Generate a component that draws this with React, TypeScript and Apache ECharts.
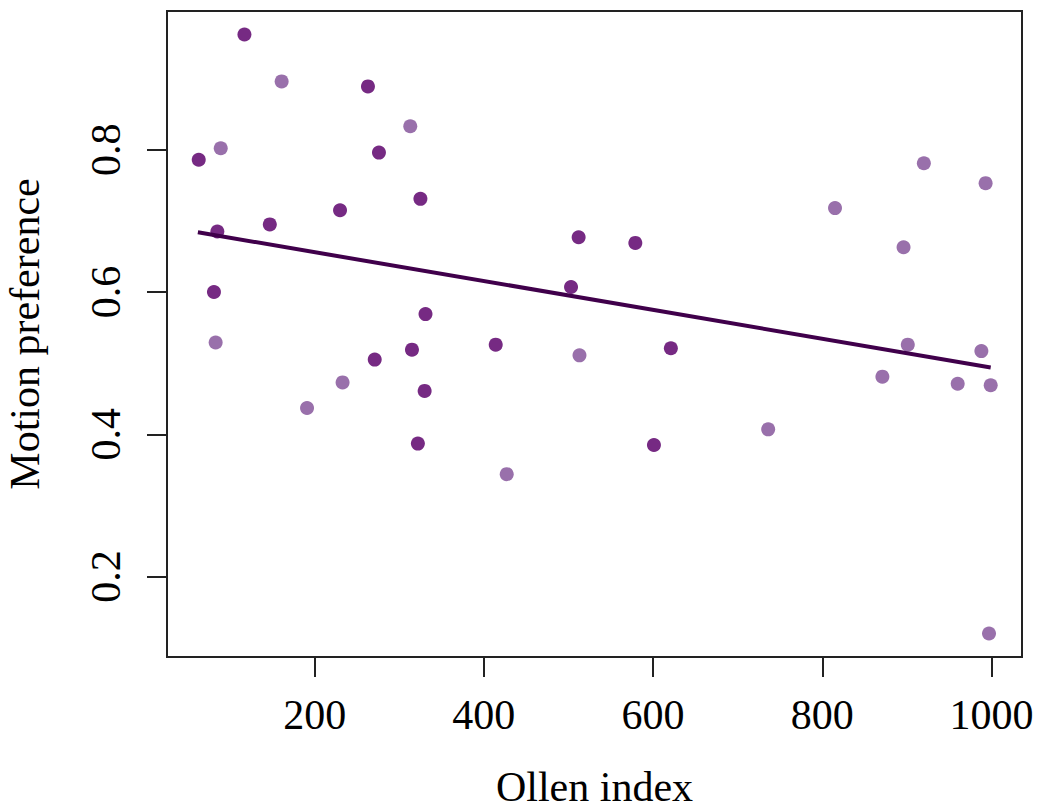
import React, { useEffect, useRef } from "react";
import * as echarts from "echarts";

// Darker purple group
const darkX = [117, 63, 263, 276, 81, 85, 147, 230, 325, 331, 271, 315, 330, 322, 414, 512, 503, 579, 621, 601];
const darkY = [0.962, 0.786, 0.889, 0.796, 0.6, 0.685, 0.695, 0.715, 0.731, 0.569, 0.505, 0.519, 0.461, 0.387, 0.526, 0.677, 0.607, 0.669, 0.521, 0.385];

// Lighter purple group
const lightX = [161, 89, 313, 83, 191, 233, 427, 513, 736, 815, 896, 920, 993, 871, 901, 960, 988, 999, 997];
const lightY = [0.896, 0.802, 0.833, 0.529, 0.437, 0.473, 0.344, 0.511, 0.407, 0.718, 0.663, 0.781, 0.753, 0.481, 0.526, 0.471, 0.517, 0.469, 0.12];

// Fitted line end points
const fitX = [62, 999];
const fitY = [0.684, 0.494];

// Tick values
const xTicks = [200, 400, 600, 800, 1000];
const yTicks = [0.2, 0.4, 0.6, 0.8];

const FONT = "'Liberation Serif', 'DejaVu Serif', serif";

export default function App() {
  const ref = useRef<HTMLDivElement>(null);

  useEffect(() => {
    const chart = echarts.init(ref.current!, null, { renderer: "svg" });
    const zip = (xs: number[], ys: number[]) => xs.map((x, i) => [x, ys[i]]);
    const tickStyle = { color: "#222", width: 2 };
    const labelStyle = { fontFamily: FONT, fontSize: 42, lineHeight: 42, color: "#000" };

    chart.setOption({
      animation: false,
      backgroundColor: "#fff",
      grid: {
        left: 167,
        top: 11,
        width: 855,
        height: 646,
        show: true,
        containLabel: false,
        outerBoundsMode: "none",
        borderColor: "#222",
        borderWidth: 2,
        backgroundColor: "transparent",
      },
      xAxis: {
        type: "value",
        min: 25.5,
        max: 1036,
        splitLine: { show: false },
        axisLine: { show: false },
        axisTick: { show: true, customValues: xTicks, length: 20, lineStyle: tickStyle },
        axisLabel: {
          ...labelStyle,
          customValues: xTicks,
          margin: 37,
          formatter: (v: number) => String(v),
        },
        name: "Ollen index",
        nameLocation: "middle",
        nameGap: 109,
        nameTextStyle: { ...labelStyle },
      },
      yAxis: {
        type: "value",
        min: 0.087,
        max: 0.995,
        splitLine: { show: false },
        axisLine: { show: false },
        axisTick: { show: true, customValues: yTicks, length: 20, lineStyle: tickStyle },
        axisLabel: {
          ...labelStyle,
          customValues: yTicks,
          margin: 40,
          rotate: 90,
          formatter: (v: number) => String(v),
        },
        name: "Motion preference",
        nameLocation: "middle",
        nameGap: 121,
        nameTextStyle: { ...labelStyle },
      },
      series: [
        {
          type: "scatter",
          data: zip(darkX, darkY),
          symbolSize: 14,
          itemStyle: { color: "#762a83", opacity: 1 },
        },
        {
          type: "scatter",
          data: zip(lightX, lightY),
          symbolSize: 14,
          itemStyle: { color: "#9970ab", opacity: 1 },
        },
        {
          type: "line",
          data: zip(fitX, fitY),
          symbol: "none",
          lineStyle: { color: "#40004b", width: 4 },
          z: 5,
        },
      ],
    });
    return () => chart.dispose();
  }, []);

  return (
    <div
      ref={ref}
      style={{ position: "absolute", left: 0, top: 0, width: 1037, height: 810, background: "#fff" }}
    />
  );
}
